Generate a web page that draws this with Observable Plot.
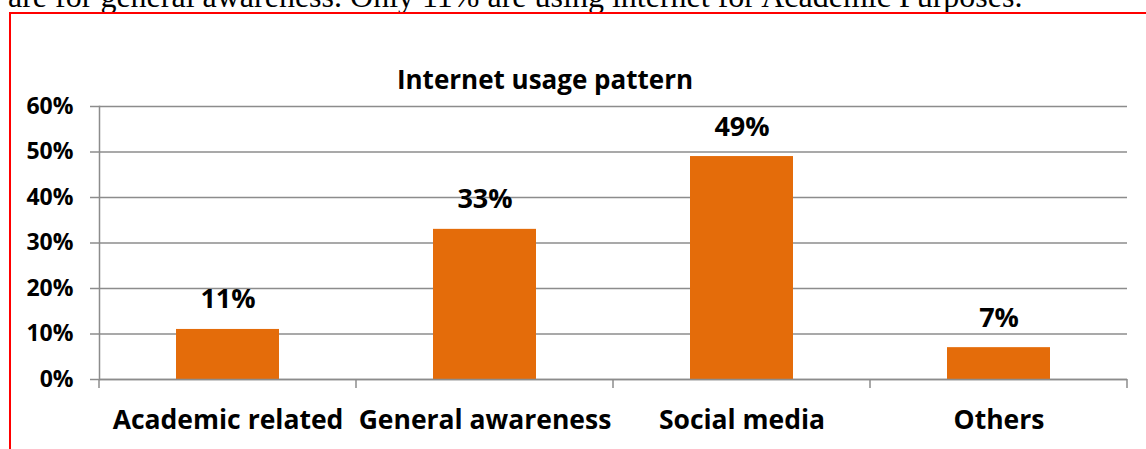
<!DOCTYPE html>
<html>
<head>
<meta charset="utf-8">
<script src="https://cdn.jsdelivr.net/npm/d3@7"></script>
<script src="https://cdn.jsdelivr.net/npm/@observablehq/plot@0.6"></script>
<style>
  html, body { margin: 0; padding: 0; background: #fff; overflow: hidden; }
  #page { position: relative; width: 1146px; height: 449px; overflow: hidden; }
  #para { position: absolute; left: 8px; top: -20px; font-family: "Liberation Serif", "Times New Roman", serif; font-size: 32px; white-space: nowrap; color: #000; line-height: 1; }
  #box { position: absolute; left: 9px; top: 12px; width: 1200px; height: 500px; border-top: 2px solid #ff0000; border-left: 2px solid #ff0000; }
  #chart { position: absolute; left: 0; top: 0; }
  #title { position: absolute; left: 0; width: 1090px; top: 66px; text-align: center; font-family: "Open Sans", sans-serif; font-weight: bold; font-size: 26px; line-height: 1; color: #000; }
</style>
</head>
<body>
<div id="page">
  <div id="para"></div>
  <div id="box"></div>
  <div id="chart"></div>
  <div id="title"></div>
</div>
<script>
const bodyText = "are for general awareness. Only 11% are using internet for Academic Purposes.";
const chartTitle = "Internet usage pattern";
const categories = ["Academic related", "General awareness", "Social media", "Others"];
const values = [11, 33, 49, 7];
const yTicks = [0, 10, 20, 30, 40, 50, 60];

document.getElementById("para").textContent = bodyText;
document.getElementById("title").textContent = chartTitle;

const data = categories.map((c, i) => ({category: c, value: values[i]}));
const gridColor = "#8c8c8c";

const boundaryTicks = (index, scales, vals, dimensions) => {
  const x = scales.x, y = scales.y;
  const bw = x.bandwidth();
  const g = d3.create("svg:g").attr("stroke", gridColor).attr("stroke-width", 1.5);
  const xs = categories.map(c => x(c)).concat([x(categories[categories.length - 1]) + bw]);
  const y0 = y(0);
  for (const px of xs) {
    g.append("line").attr("x1", px).attr("x2", px).attr("y1", y0).attr("y2", y0 + 9);
  }
  return g.node();
};

const chart = Plot.plot({
  width: 1146,
  height: 449,
  marginTop: 106,
  marginBottom: 70,
  marginLeft: 99,
  marginRight: 19,
  style: {background: "transparent", fontFamily: "'Open Sans', sans-serif"},
  x: {domain: categories, padding: 0},
  y: {domain: [0, 60]},
  marks: [
    Plot.gridY(yTicks, {stroke: gridColor, strokeOpacity: 1, strokeWidth: 1.5}),
    Plot.axisY(yTicks, {tickFormat: d => d + "%", tickSize: 9, tickPadding: 17, stroke: gridColor, strokeWidth: 1.5, fontSize: 23, fontWeight: "bold", fill: "#000", label: null}),
    Plot.axisX({tickSize: 0, tickPadding: 31, fontSize: 26.5, fontWeight: "bold", fill: "#000", label: null}),
    Plot.barY(data, {x: "category", y: "value", fill: "#e46c0a", insetLeft: 77, insetRight: 77}),
    Plot.frame({anchor: "left", stroke: gridColor, strokeWidth: 1.5}),
    Plot.ruleY([0], {stroke: gridColor, strokeWidth: 1.5}),
    boundaryTicks,
    Plot.text(data, {x: "category", y: "value", text: d => d.value + "%", dy: -21, lineAnchor: "bottom", fontSize: 27, fontWeight: "bold", fill: "#000"})
  ]
});
document.getElementById("chart").appendChild(chart);
</script>
</body>
</html>
